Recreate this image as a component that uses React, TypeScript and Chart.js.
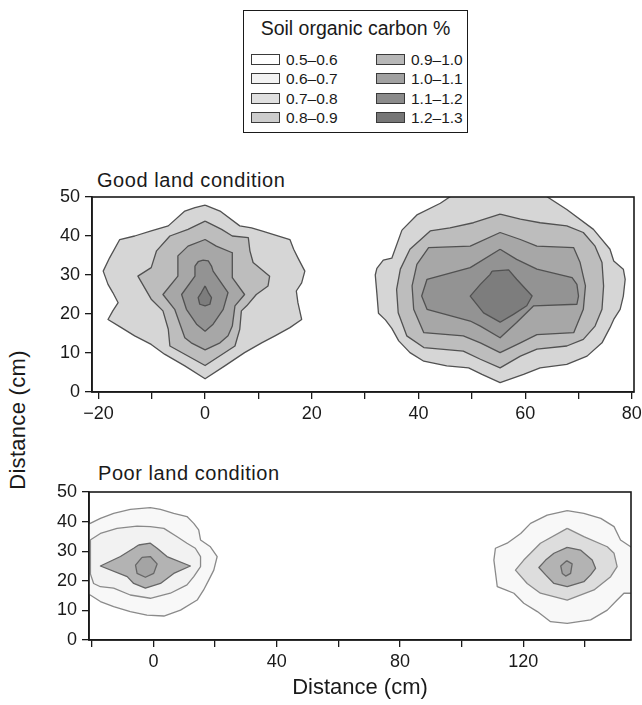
import React, { useEffect, useRef } from "react";
import { Chart, registerables } from "chart.js";

Chart.register(...registerables);

type Pt = [number, number];

const FONT = '"Liberation Sans", Arial, Helvetica, sans-serif';
const INK = "#1a1a1a";

// ---------- legend ----------
const LEGEND_TITLE = "Soil organic carbon %";
const LEGEND_LABELS = ["0.5–0.6", "0.6–0.7", "0.7–0.8", "0.8–0.9", "0.9–1.0", "1.0–1.1", "1.1–1.2", "1.2–1.3"];
const LEGEND_COLORS = ["#ffffff", "#f3f3f3", "#e0e0e0", "#cdcdcd", "#b7b7b7", "#a1a1a1", "#8b8b8b", "#767676"];

// ---------- axes ----------
const Y_TICKS = [0, 10, 20, 30, 40, 50];
const GOOD_X_TICKS = [-20, -10, 0, 10, 20, 30, 40, 50, 60, 70, 80];
const GOOD_X_LABELS = [-20, 0, 20, 40, 60, 80];
const POOR_X_TICKS = [-20, 0, 20, 40, 60, 80, 100, 120, 140];
const POOR_X_LABELS = [0, 40, 80, 120];

// ---------- Good land condition: contour polygons (x cm, y cm) ----------
const goodLeft1: Pt[] = [[0,47.9],[2.8,46.4],[6.5,42.6],[8.7,42.1],[10.6,41.3],[15.9,39.1],[16.6,36.6],[17.4,34.4],[18.7,31],[18.1,28],[17.1,25.9],[17.4,22.9],[18.1,18.6],[15.9,16.5],[13.1,14.4],[10.6,12.6],[7.4,10.1],[3.7,6.7],[0,3.4],[-3.8,6.7],[-7.6,9.7],[-10.1,12.2],[-13.2,14.4],[-15.7,16.5],[-18.2,18.6],[-17.3,20.8],[-16.3,22.9],[-17.3,25.5],[-18.2,27.6],[-19.1,31],[-17.9,34.4],[-16,39.1],[-13.2,40],[-10.1,41.3],[-6.9,42.6],[-3.8,46.4],[-1.9,47.3]];
const goodLeft2: Pt[] = [[0,43.8],[3.1,41.7],[5.1,40],[8.1,39.6],[8.4,36.2],[9,33.2],[12.1,29.7],[11.8,27.2],[9.6,25],[7.8,22.1],[6.8,20.8],[6.5,16.1],[5.6,11.8],[0,6.8],[-6.6,11.8],[-6.9,16.1],[-7.9,20.8],[-10.1,23.8],[-12.6,29.7],[-10.1,31.9],[-9.1,36.2],[-6.6,40],[-3.2,41.7]];
const goodLeft3: Pt[] = [[0,39.1],[2.1,37.4],[5.1,35.7],[5.1,29.3],[7.4,25],[5.6,22.1],[5.1,16.9],[4.3,14.4],[2.8,12.6],[0,10.8],[-2.6,12.6],[-3.8,13.9],[-5.7,21.2],[-7.9,25],[-5.1,29.7],[-5.1,34.9],[-3.2,37.4]];
const goodLeft4: Pt[] = [[-0.4,33.8],[0.6,33.6],[1.2,32.3],[1.5,31],[4.3,25.5],[3.4,21.2],[1.5,17.4],[0,15.6],[-1.6,17.4],[-3.5,21.2],[-4.4,25],[-1.9,29.7],[-1.9,32.3],[-1.3,33.4]];
const goodLeft5: Pt[] = [[0,27.2],[0.6,25.5],[1.2,24.2],[0.9,22.5],[0,22.1],[-1,22.5],[-1.3,24.2],[-0.7,25.5]];

const goodRight1: Pt[] = [[36.9,41.5],[39.7,45.4],[44.1,48.4],[46.5,50.6],[63.5,50.6],[67.8,46.8],[72.8,41.7],[75.9,36.6],[76.6,33.6],[78.4,31.5],[78.75,28.9],[78.4,24.6],[77.8,21.2],[76.6,18.6],[75.9,16.5],[74.4,12.6],[71.6,9.2],[67.8,7.1],[62.8,6.2],[59.7,4.5],[55.3,2.4],[51.9,4.5],[49.4,6.2],[45.3,6.7],[41,7.9],[38.4,10.1],[36.3,13.1],[35,16.3],[33.8,18.5],[32.5,20.2],[32.2,25.3],[31.9,30],[32.2,31.7],[33.4,33.8],[35,34.3]];
const goodRight2: Pt[] = [[55.3,45.6],[59.1,44.3],[62.8,43.4],[67.8,42.6],[70.9,40.9],[73.1,37.4],[74.4,33.2],[74.7,27.2],[74.4,21.2],[73.1,16.9],[70.9,13.5],[67.8,11.8],[62.2,11],[59.1,9.2],[55.3,6.2],[51.6,8.4],[48.4,10.5],[41,11.4],[37.8,14.4],[36.2,20.3],[35.9,26.3],[36.6,31.5],[38.4,36.6],[42.2,41.3],[45.9,42.1],[50.3,43.4]];
const goodRight3: Pt[] = [[55.3,40.9],[59.1,39.1],[62.2,37.4],[69.1,37],[70.3,33.2],[71.3,27.2],[70.9,21.2],[69.1,15.2],[62.2,14.7],[59.1,12.6],[55.3,10.1],[51.6,12.6],[48.4,14.4],[41,15.2],[39.1,21.2],[38.8,27.2],[39.7,32.7],[41.9,37],[49.7,37.4]];
const goodRight4: Pt[] = [[55.3,36.6],[58.4,34],[62.2,31.5],[68.8,29.3],[69.7,27.6],[70,24.6],[69.7,22.5],[61.6,22.1],[58.4,17.8],[55.3,13.9],[51.6,16.9],[49.7,18.2],[41.6,21.2],[40.6,24.6],[41.6,28.9],[49.7,31.9]];
const goodRight5: Pt[] = [[53.8,31],[56.9,31.3],[58.4,28.9],[61.3,24.6],[60.3,22.1],[57.8,19.9],[55.3,17.9],[52.2,20.3],[49.7,24.6],[51.6,27.6],[53.4,30.1]];

// ---------- Poor land condition: contour polygons ----------
const poorLeft1: Pt[] = [[-23,38.5],[-20.5,39.4],[-17.2,41.1],[-12.9,42.8],[-7.5,44.1],[-1,44.7],[2.3,44.1],[6.6,42.8],[10.9,41.7],[13.1,39.4],[14.7,37.2],[15.3,33.8],[18.5,31.5],[20.7,28.2],[19.6,23.6],[18,20.3],[16.3,16.9],[14.2,13.5],[8.8,10.1],[3.4,8.1],[-2.1,8.4],[-7.5,9.6],[-12.9,11.3],[-17.2,13],[-20.5,15.2],[-23,16]];
const poorLeft2: Pt[] = [[-20.5,33.8],[-17.2,36],[-11.8,37.7],[-5.3,38.5],[-1,38.3],[3.4,37.7],[7.7,34.9],[10.9,32.7],[13.6,31],[15.3,28.2],[15.3,24.8],[13.1,21.4],[10.9,18.6],[5.5,15.8],[-1,14.1],[-7.5,15.2],[-12.9,17.5],[-17.2,18],[-19.4,19.1],[-20.5,22.5],[-20.3,27],[-20.5,30.4]];
const poorLeft3: Pt[] = [[-4.8,32.1],[-1,32.7],[1.2,31],[4.4,28.2],[12,25],[6.6,22.5],[2.3,19.1],[-2.6,17.5],[-6.4,19.1],[-8.5,21.4],[-17.2,25],[-10.7,28.2],[-6.4,31]];
const poorLeft4: Pt[] = [[-3.7,27.9],[-1,28.2],[1.2,25.7],[0.1,22.5],[-2.6,21.2],[-5.3,22.5],[-5.8,25.3]];

const poorRight1: Pt[] = [[134.3,43.7],[139.7,42.8],[145.2,41.1],[149.5,38.3],[151.6,33.8],[154.9,31.5],[158,31],[158,16],[155.4,15.8],[152.7,15.8],[150.5,13.5],[147.3,10.1],[141.9,6.8],[134.3,5.6],[128.9,6.2],[124.6,9.6],[120.2,12.4],[117,15.8],[114.3,16.9],[111.6,18],[110.5,27],[111,31],[114.8,32.7],[119.2,36],[122.4,39.4],[127.8,42.2]];
const poorRight2: Pt[] = [[134.3,37.7],[139.7,34.9],[147.3,31.5],[149.5,29.3],[150.5,24.8],[148.4,21.4],[143,16.9],[134.3,13.5],[125.6,15.8],[121.3,19.1],[117.5,23.6],[120.2,27],[125.6,32.7]];
const poorRight3: Pt[] = [[134.3,31.3],[138.6,30.4],[142.4,27],[143.5,24.2],[141.9,22],[139.7,19.7],[134.3,18],[130,19.1],[127.3,22],[125.1,24.5],[127.3,27],[130,29.3]];
const poorRight4: Pt[] = [[134.1,26.8],[135.9,25.7],[135.4,22.5],[133.8,21.6],[132.7,22.5],[132.2,25]];

// ---------- styles ----------
const GOOD_FILLS = ["#d6d6d6", "#bdbdbd", "#a7a7a7", "#939393", "#7d7d7d"];
const GOOD_STROKE = "#515151";
const POOR_FILLS = ["#f8f8f8", "#f2f2f2", "#b3b3b3", "#a4a4a4"];
const POOR_RIGHT_FILLS = ["#f8f8f8", "#dddddd", "#b3b3b3", "#a4a4a4"];
const POOR_STROKE = "#8a8a8a";
const POOR_STROKE_DARK = "#666666";

type Poly = { pts: Pt[]; fill: string; stroke: string; layer: number };

const GOOD_POLYS: Poly[] = [
  ...[goodLeft1, goodLeft2, goodLeft3, goodLeft4, goodLeft5].map((pts, i) => ({ pts, fill: GOOD_FILLS[i], stroke: GOOD_STROKE, layer: i })),
  ...[goodRight1, goodRight2, goodRight3, goodRight4, goodRight5].map((pts, i) => ({ pts, fill: GOOD_FILLS[i], stroke: GOOD_STROKE, layer: i })),
];
const POOR_POLYS: Poly[] = [
  ...[poorLeft1, poorLeft2, poorLeft3, poorLeft4].map((pts, i) => ({ pts, fill: POOR_FILLS[i], stroke: i >= 2 ? POOR_STROKE_DARK : POOR_STROKE, layer: i })),
  ...[poorRight1, poorRight2, poorRight3, poorRight4].map((pts, i) => ({ pts, fill: POOR_RIGHT_FILLS[i], stroke: i >= 2 ? POOR_STROKE_DARK : POOR_STROKE, layer: i })),
];

const fmt = (v: number) => (v < 0 ? "\u2212" + Math.abs(v) : String(v));

const framePlugin = {
  id: "frame",
  afterDatasetsDraw(chart: any) {
    const { ctx, chartArea: a } = chart;
    ctx.save();
    ctx.strokeStyle = INK;
    ctx.lineWidth = 1.6;
    ctx.strokeRect(a.left, a.top, a.right - a.left, a.bottom - a.top);
    ctx.restore();
  },
};

type PanelProps = {
  polys: Poly[];
  xMin: number;
  xMax: number;
  xTicks: number[];
  xLabels: number[];
  xTitle?: string;
  top: number;
  height: number;
  pad: { top: number; right: number; left: number; bottom: number };
  yWidth: number;
  xHeight: number;
};

function ContourPanel(p: PanelProps) {
  const ref = useRef<HTMLCanvasElement>(null);
  useEffect(() => {
    const chart = new Chart(ref.current as HTMLCanvasElement, {
      type: "line",
      data: {
        datasets: p.polys.map((poly) => ({
          data: [...poly.pts, poly.pts[0]].map(([x, y]) => ({ x, y })),
          borderColor: poly.stroke,
          borderWidth: 1.3,
          backgroundColor: poly.fill,
          fill: "shape",
          pointRadius: 0,
          pointHoverRadius: 0,
          tension: 0,
          borderJoinStyle: "round",
          order: 10 - poly.layer,
        })),
      } as any,
      options: {
        responsive: false,
        animation: false,
        devicePixelRatio: 1,
        events: [],
        layout: { padding: p.pad },
        plugins: { legend: { display: false }, tooltip: { enabled: false } },
        scales: {
          x: {
            type: "linear",
            min: p.xMin,
            max: p.xMax,
            afterBuildTicks: (s: any) => {
              s.ticks = p.xTicks.map((v) => ({ value: v }));
            },
            afterFit: (s: any) => {
              s.height = p.xHeight;
              s.paddingLeft = 0;
              s.paddingRight = 0;
            },
            ticks: {
              autoSkip: false,
              maxRotation: 0,
              minRotation: 0,
              color: INK,
              padding: 4,
              font: { family: FONT, size: 18 },
              callback: (v: any) => (p.xLabels.includes(Number(v)) ? fmt(Number(v)) : ""),
            },
            grid: { drawOnChartArea: false, drawTicks: true, tickLength: 7, color: INK, lineWidth: 1.3 },
            border: { display: true, color: INK, width: 1.6 },
            title: p.xTitle
              ? { display: true, text: p.xTitle, color: INK, font: { family: FONT, size: 22 }, padding: { top: 0, bottom: 4 } }
              : { display: false },
          },
          y: {
            type: "linear",
            min: 0,
            max: 50,
            afterBuildTicks: (s: any) => {
              s.ticks = Y_TICKS.map((v) => ({ value: v }));
            },
            afterFit: (s: any) => {
              s.width = p.yWidth;
              s.paddingTop = 0;
              s.paddingBottom = 0;
            },
            ticks: { color: INK, padding: 5, font: { family: FONT, size: 18 } },
            grid: { drawOnChartArea: false, drawTicks: true, tickLength: 7, color: INK, lineWidth: 1.3 },
            border: { display: true, color: INK, width: 1.6 },
          },
        },
      } as any,
      plugins: [framePlugin],
    });
    return () => chart.destroy();
  }, []);
  return (
    <canvas
      ref={ref}
      width={642}
      height={p.height}
      style={{ position: "absolute", left: 0, top: p.top, width: 642, height: p.height }}
    />
  );
}

function Legend() {
  const rows = [0, 1, 2, 3];
  const rowTop = [53.5, 73, 92.5, 112];
  return (
    <div
      style={{
        position: "absolute",
        left: 243,
        top: 10,
        width: 225,
        height: 123,
        boxSizing: "border-box",
        border: "1.3px solid #1a1a1a",
        fontFamily: FONT,
        color: INK,
        background: "#fff",
      }}
    >
      <div style={{ position: "absolute", left: 0, right: 0, top: 8, textAlign: "center", fontSize: 19.5, lineHeight: "19px", whiteSpace: "nowrap" }}>
        {LEGEND_TITLE}
      </div>
      {[0, 1].map((col) =>
        rows.map((r) => {
          const idx = col * 4 + r;
          const sx = col === 0 ? 7 : 132;
          return (
            <React.Fragment key={idx}>
              <div
                style={{
                  position: "absolute",
                  left: sx,
                  top: rowTop[r] - 11,
                  width: 29,
                  height: 11,
                  boxSizing: "border-box",
                  border: "1px solid #3a3a3a",
                  background: LEGEND_COLORS[idx],
                }}
              />
              <div
                style={{
                  position: "absolute",
                  left: sx + 35,
                  top: rowTop[r] - 13,
                  fontSize: 15.5,
                  lineHeight: "15px",
                  whiteSpace: "nowrap",
                }}
              >
                {LEGEND_LABELS[idx]}
              </div>
            </React.Fragment>
          );
        })
      )}
    </div>
  );
}

export default function App() {
  return (
    <div style={{ position: "absolute", left: 0, top: 0, width: 642, height: 705, background: "#fff", overflow: "hidden", fontFamily: FONT }}>
      <Legend />
      <div style={{ position: "absolute", left: 97, top: 170, fontSize: 20, lineHeight: "20px", color: INK, whiteSpace: "nowrap", letterSpacing: 0.55 }}>
        Good land condition
      </div>
      <div style={{ position: "absolute", left: 98, top: 463, fontSize: 20, lineHeight: "20px", color: INK, whiteSpace: "nowrap", letterSpacing: 0.55 }}>
        Poor land condition
      </div>
      <div
        style={{
          position: "absolute",
          left: 18,
          top: 420,
          transform: "translate(-50%, -50%) rotate(-90deg)",
          fontSize: 22,
          lineHeight: "22px",
          color: INK,
          whiteSpace: "nowrap",
          letterSpacing: 0.3,
        }}
      >
        Distance (cm)
      </div>
      <ContourPanel
        polys={GOOD_POLYS}
        xMin={-21.2}
        xMax={80.4}
        xTicks={GOOD_X_TICKS}
        xLabels={GOOD_X_LABELS}
        top={150}
        height={290}
        pad={{ top: 47, right: 8, left: 0, bottom: 0 }}
        yWidth={92}
        xHeight={48}
      />
      <ContourPanel
        polys={POOR_POLYS}
        xMin={-20.9}
        xMax={155}
        xTicks={POOR_X_TICKS}
        xLabels={POOR_X_LABELS}
        xTitle="Distance (cm)"
        top={460}
        height={245}
        pad={{ top: 32, right: 11, left: 0, bottom: 0 }}
        yWidth={89}
        xHeight={65}
      />
    </div>
  );
}
